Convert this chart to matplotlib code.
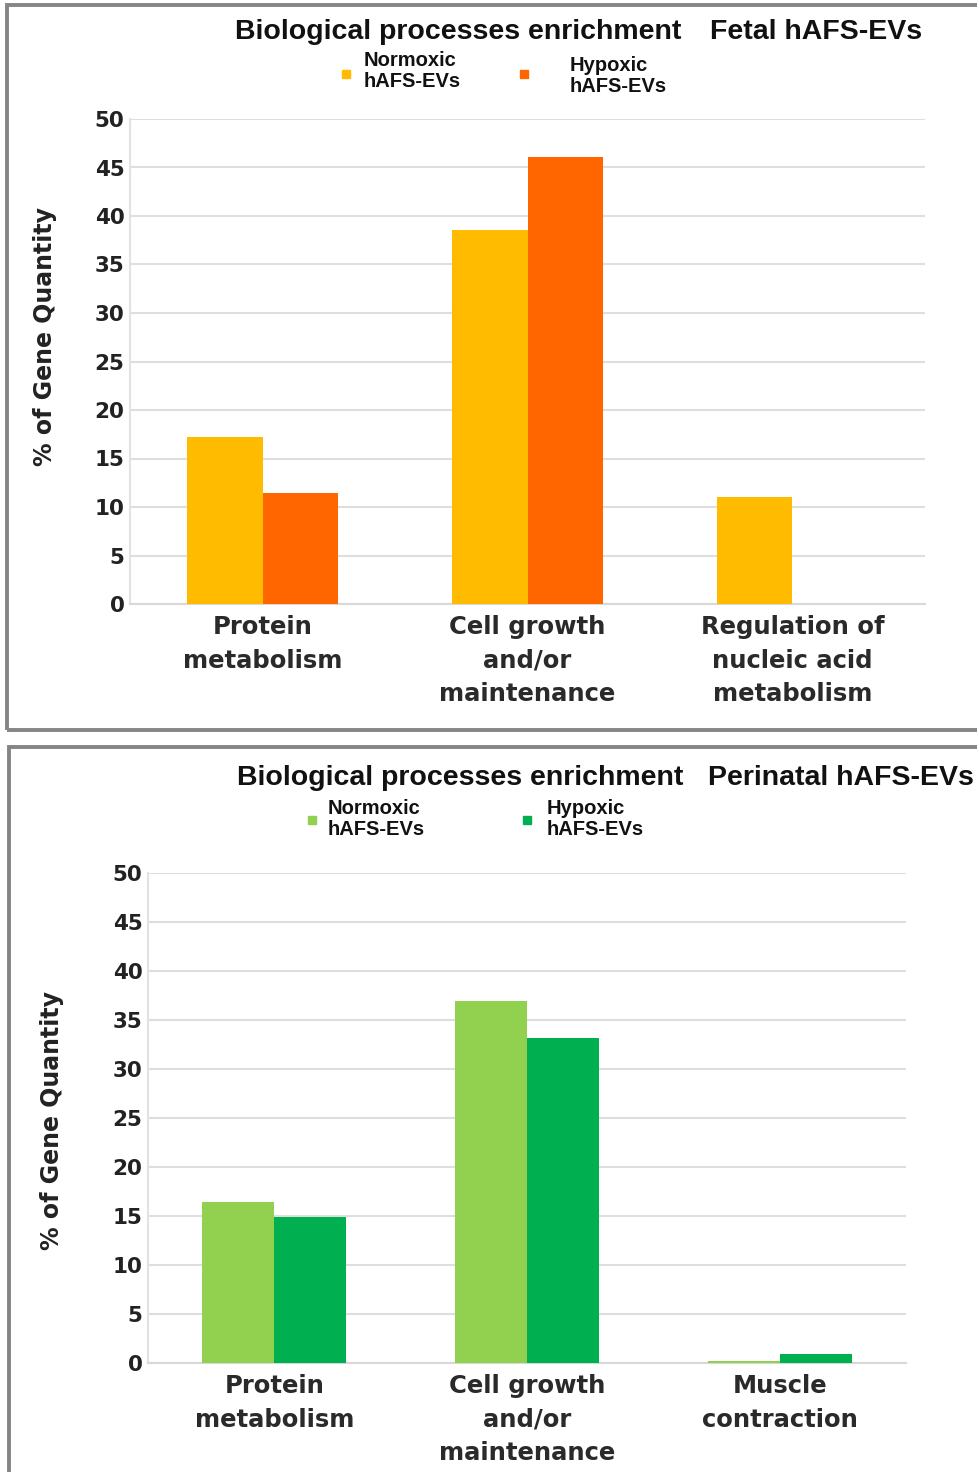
import matplotlib
matplotlib.use("Agg")
import matplotlib.pyplot as plt
from matplotlib.patches import Rectangle
import numpy as np

W, H = 977, 1472

# data
fetal_cats = ["Protein\nmetabolism", "Cell growth\nand/or\nmaintenance", "Regulation of\nnucleic acid\nmetabolism"]
fetal_normoxic = [17.2, 38.6, 11.0]
fetal_hypoxic = [11.4, 46.1, 0.0]

peri_cats = ["Protein\nmetabolism", "Cell growth\nand/or\nmaintenance", "Muscle\ncontraction"]
peri_normoxic = [16.4, 36.9, 0.2]
peri_hypoxic = [14.9, 33.2, 0.9]

yticks = [0, 5, 10, 15, 20, 25, 30, 35, 40, 45, 50]
leg_labels = ["Normoxic\nhAFS-EVs", "Hypoxic\nhAFS-EVs"]


def fx(x):
  return x / W


def fy(y):
  return 1 - y / H


fig = plt.figure(figsize=(W / 100, H / 100), dpi=100)
fig.patch.set_facecolor("white")

# panel borders
fig.patches.append(Rectangle((fx(7), fy(730)), fx(1000), fy(5) - fy(730), transform=fig.transFigure,
                             fill=False, edgecolor="#858585", lw=2.8))
fig.patches.append(Rectangle((fx(9), fy(1500)), fx(1000), fy(747) - fy(1500), transform=fig.transFigure,
                             fill=False, edgecolor="#858585", lw=2.8))


def panel(box, cats, norm, hyp, colors, title2, title_xy, t2x, leg, ylab_xy):
  x0, y0, x1, y1 = box
  ax = fig.add_axes([fx(x0), fy(y1), fx(x1) - fx(x0), fy(y0) - fy(y1)])
  x = np.arange(len(cats))
  bw = 0.285
  ax.bar(x - bw / 2, norm, bw, color=colors[0], zorder=3)
  ax.bar(x + bw / 2, hyp, bw, color=colors[1], zorder=3)
  ax.set_xlim(-0.5, 2.5)
  ax.set_ylim(0, 50)
  ax.set_yticks(yticks)
  ax.set_yticklabels([str(t) for t in yticks], fontsize=15.5, fontweight="bold", color="#222222")
  ax.set_xticks(x)
  ax.set_xticklabels(cats, fontsize=17.5, fontweight="bold", color="#2a2a2a", linespacing=1.5, va="top")
  ax.tick_params(axis="both", length=0)
  ax.tick_params(axis="x", pad=8)
  ax.tick_params(axis="y", pad=4)
  ax.grid(axis="y", color="#dedede", lw=1.5, zorder=0)
  for s in ["top", "right"]:
    ax.spines[s].set_visible(False)
  ax.spines["left"].set_color("#e2e2e2")
  ax.spines["bottom"].set_color("#d8d8d8")
  ax.spines["left"].set_linewidth(1.5)
  ax.spines["bottom"].set_linewidth(1.5)

  tx, ty = title_xy
  fig.text(fx(tx), fy(ty), "Biological processes enrichment", fontsize=20.5, fontweight="bold",
           family="Liberation Sans", va="center", ha="left", color="#111111")
  fig.text(fx(t2x), fy(ty), title2, fontsize=20.5, fontweight="bold",
           family="Liberation Sans", va="center", ha="left", color="#111111")

  for (sx, sy, lx, ly), lab, c in zip(leg, leg_labels, colors):
    fig.patches.append(Rectangle((fx(sx - 4), fy(sy + 4)), fx(8), fy(0) - fy(8), transform=fig.transFigure,
                                 color=c))
    fig.text(fx(lx), fy(ly), lab, fontsize=14.5, fontweight="bold", family="Liberation Sans",
             va="center", ha="left", linespacing=1.15, color="#111111")

  fig.text(fx(ylab_xy[0]), fy(ylab_xy[1]), "% of Gene Quantity", rotation=90, fontsize=17,
           fontweight="bold", color="#222222", va="center", ha="center")
  return ax


panel((130, 119, 925, 604), fetal_cats, fetal_normoxic, fetal_hypoxic, ["#FFBB00", "#FF6600"],
      "Fetal hAFS-EVs", (235, 32), 710, [(346, 74, 364, 71), (524, 74, 570, 76)], (45, 336))

panel((148, 873, 906, 1363), peri_cats, peri_normoxic, peri_hypoxic, ["#92D050", "#00B050"],
      "Perinatal hAFS-EVs", (237, 778), 708, [(312, 820, 328, 819), (527, 820, 547, 819)], (52, 1120))

fig.savefig("out.png", dpi=100)
